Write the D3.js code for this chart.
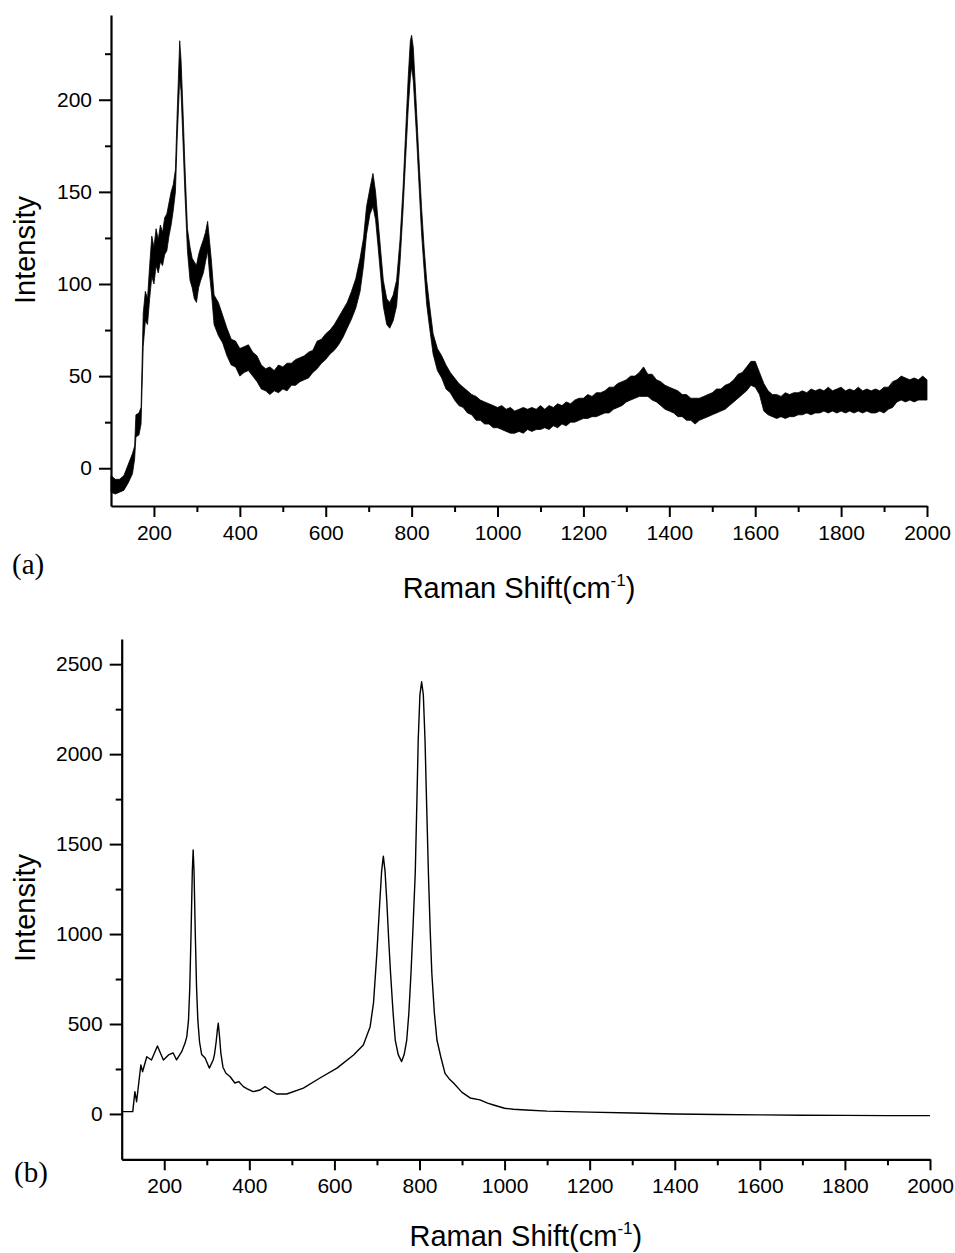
<!DOCTYPE html>
<html>
<head>
<meta charset="UTF-8" />
<script src="https://cdn.jsdelivr.net/npm/d3@7"></script>
<style>
  body { margin: 0; background: #fff; }
  svg text { font-family: "Liberation Sans", Arial, sans-serif; fill: #000; }
</style>
</head>
<body>
<div id="app"></div>
<script>
// (a) noisy spectrum, read as lower / upper edge of the noise band
const shiftA = [100,110,120,130,140,150,155,158,165,170,175,180,185,190,195,200,205,210,215,220,225,230,235,240,245,250,254,260,263,268,272,278,284,289,294,299,304,309,315,320,325,330,334,
  340,350,360,370,380,390,400,410,420,430,440,450,460,470,480,490,500,510,520,530,540,550,560,570,580,590,600,610,620,630,640,650,660,670,680,688,695,703,710,716,722,728,734,742,749,757,765,773,780,786,792,797,800,804,811,817,823,829,835,842,
  850,860,870,880,890,900,910,920,930,940,950,960,970,980,990,1000,1010,1020,1030,1040,1050,1060,1070,1080,1090,1100,1110,1120,1130,1140,1150,1160,1170,1180,1190,1200,1210,1220,1230,1240,1250,1260,1270,1280,1290,1300,1310,1320,1330,1340,1350,1360,1370,1380,1390,1400,
  1410,1420,1430,1440,1450,1460,1470,1480,1490,1500,1510,1520,1530,1540,1550,1560,1570,1580,1590,1600,1610,1620,1630,1640,1650,1660,1670,1680,1690,1700,1710,1720,1730,1740,1750,1760,1770,1780,1790,1800,1810,1820,1830,1840,1850,1860,1870,1880,1890,1900,1910,1920,1930,1940,1950,1960,1970,1980,1990,2000];
const lowA = [-13,-14,-13,-12,-8,-3,5,17,18,24,66,80,78,92,104,100,110,106,112,110,116,118,126,132,140,150,178,212,205,175,150,118,102,98,92,90,98,102,106,112,118,104,95,
  78,72,68,61,56,55,50,52,53,50,47,43,42,40,42,41,43,42,45,45,47,48,49,52,54,57,59,62,64,67,71,76,81,87,96,110,127,138,142,135,120,104,88,78,76,80,88,112,140,168,195,212,218,210,182,155,128,108,89,76,
  62,53,49,43,41,37,34,33,30,29,26,26,24,24,22,22,21,20,19,19,20,19,21,20,21,21,22,21,23,22,24,23,25,25,26,27,27,28,28,29,30,30,32,33,34,36,37,38,39,39,39,37,36,34,32,31,
  30,28,28,26,26,24,26,27,28,29,30,31,32,34,36,38,40,42,45,44,40,31,29,28,27,28,27,28,28,29,29,30,29,30,30,31,30,31,30,31,30,31,30,31,30,31,30,30,31,30,32,33,36,37,36,37,36,37,37,37];
const highA = [-4,-6,-6,-4,2,8,12,29,30,33,84,96,92,110,126,120,130,124,132,128,136,138,144,150,154,162,192,232,222,192,165,130,120,114,112,110,116,120,124,128,134,122,112,
  94,90,83,76,70,69,65,66,67,63,61,56,54,55,53,56,55,57,57,59,60,61,63,64,69,70,73,75,78,82,86,90,96,103,114,125,142,152,160,150,134,118,102,92,90,94,102,124,152,182,212,232,235,228,196,168,142,120,102,88,
  73,65,61,56,52,49,46,44,42,40,39,37,36,35,34,33,34,32,33,31,32,33,32,33,32,34,32,34,33,35,34,36,35,37,38,38,40,39,41,41,42,44,44,46,47,48,50,50,52,55,51,51,48,47,45,44,
  43,42,40,40,38,38,38,39,40,41,43,43,45,46,48,51,52,55,58,58,52,46,42,40,40,39,41,40,41,41,42,41,43,42,43,42,44,42,43,44,42,43,42,44,42,43,42,43,42,44,44,47,48,50,49,48,49,48,50,48];

// (b) smooth spectrum
const shiftB = [100,126,131,135,145,149,159,170,184,198,210,221,229,241,249,253,257,260,263,266,268,270,273,276,279,283,288,296,306,315,318,322,325,327,330,333,338,345,355,366,375,386,395,409,425,437,449,464,488,527,566,606,645,668,684,692,700,706,711,715,719,723,728,732,738,743,750,758,764,770,775,780,785,790,794,797,801,805,809,813,817,821,825,829,835,841,850,860,870,880,900,919,942,960,974,1000,1021,1050,1100,1200,1300,1400,1500,1600,1700,1800,1900,2000];
const intensityB = [13,13,124,68,272,235,318,300,378,300,328,339,300,346,394,430,520,700,1000,1350,1467,1350,1000,700,520,400,330,311,255,300,330,400,470,504,430,340,260,226,207,172,180,152,140,124,133,152,133,111,111,144,200,255,328,383,485,620,900,1152,1350,1433,1350,1189,950,782,560,411,330,291,330,411,560,782,1050,1337,1750,2078,2330,2402,2330,2078,1700,1337,1030,782,560,411,318,226,195,172,120,89,78,60,50,32,26,22,16,10,5,0,-3,-5,-7,-8,-9,-9];

const xTicks = [200,400,600,800,1000,1200,1400,1600,1800,2000];
const xMinor = [300,500,700,900,1100,1300,1500,1700,1900];
const yTicksA = [0,50,100,150,200];
const yMinorA = [25,75,125,175,225];
const yTicksB = [0,500,1000,1500,2000,2500];
const yMinorB = [250,750,1250,1750,2250];

const W = 955, H = 1253;
const svg = d3.select("#app").append("svg")
  .attr("width", W).attr("height", H);

function drawAxes(x, y, yMajor, yMinor, label, lx, ly, titleY, intensityY) {
  const left = x.range()[0], bottom = y.range()[0];

  // minor ticks first
  svg.append("g")
    .attr("transform", "translate(0," + bottom + ")")
    .call(d3.axisBottom(x).tickValues(xMinor).tickSize(6).tickFormat("").tickSizeOuter(0))
    .call(g => g.select(".domain").remove());
  svg.append("g")
    .attr("transform", "translate(" + left + ",0)")
    .call(d3.axisLeft(y).tickValues(yMinor).tickSize(6).tickFormat("").tickSizeOuter(0))
    .call(g => g.select(".domain").remove());

  const gx = svg.append("g")
    .attr("transform", "translate(0," + bottom + ")")
    .call(d3.axisBottom(x).tickValues(xTicks).tickSize(11).tickPadding(8).tickSizeOuter(0).tickFormat(d3.format("d")));
  const gy = svg.append("g")
    .attr("transform", "translate(" + left + ",0)")
    .call(d3.axisLeft(y).tickValues(yMajor).tickSize(12).tickPadding(7).tickSizeOuter(0).tickFormat(d3.format("d")));

  svg.selectAll(".tick line").attr("stroke", "#000").attr("stroke-width", 2);
  [gx, gy].forEach(g => {
    g.select(".domain").attr("stroke", "#000").attr("stroke-width", 2.2);
    g.selectAll("text").attr("font-size", 21).attr("font-family", "Liberation Sans, Arial, sans-serif");
  });

  // axis titles
  const cx = (x.range()[0] + x.range()[1]) / 2;
  const t = svg.append("text")
    .attr("x", cx).attr("y", titleY)
    .attr("text-anchor", "middle")
    .attr("font-size", 29);
  t.append("tspan").text("Raman Shift(cm");
  t.append("tspan").text("-1").attr("font-size", 17).attr("dy", -12);
  t.append("tspan").text(")").attr("dy", 12);

  svg.append("text")
    .attr("transform", "translate(35," + intensityY + ") rotate(-90)")
    .attr("text-anchor", "middle")
    .attr("font-size", 29)
    .text("Intensity");

  svg.append("text")
    .attr("x", lx).attr("y", ly)
    .style("font-family", "Liberation Serif, Times New Roman, serif")
    .attr("font-size", 29)
    .text(label);
}

// ---- panel (a)
const xA = d3.scaleLinear().domain([100, 2000]).range([111, 927]);
const yA = d3.scaleLinear().domain([-20.5, 246]).range([506, 15]);

const bandA = shiftA.map((s, i) => ({ s: s, lo: lowA[i], hi: highA[i] }));
svg.append("path")
  .datum(bandA)
  .attr("fill", "#000")
  .attr("stroke", "#000")
  .attr("stroke-width", 0.8)
  .attr("d", d3.area().x(d => xA(d.s)).y0(d => yA(d.lo)).y1(d => yA(d.hi)));

drawAxes(xA, yA, yTicksA, yMinorA, "(a)", 12, 574, 598, 250);

// ---- panel (b)
const xB = d3.scaleLinear().domain([100, 2000]).range([121.7, 930]);
const yB = d3.scaleLinear().domain([-252, 2640]).range([1159.3, 639]);

svg.append("path")
  .datum(shiftB.map((s, i) => [s, intensityB[i]]))
  .attr("fill", "none")
  .attr("stroke", "#000")
  .attr("stroke-width", 1.4)
  .attr("stroke-linejoin", "round")
  .attr("d", d3.line().x(d => xB(d[0])).y(d => yB(d[1])));

drawAxes(xB, yB, yTicksB, yMinorB, "(b)", 14, 1182, 1246, 908);
</script>
</body>
</html>
